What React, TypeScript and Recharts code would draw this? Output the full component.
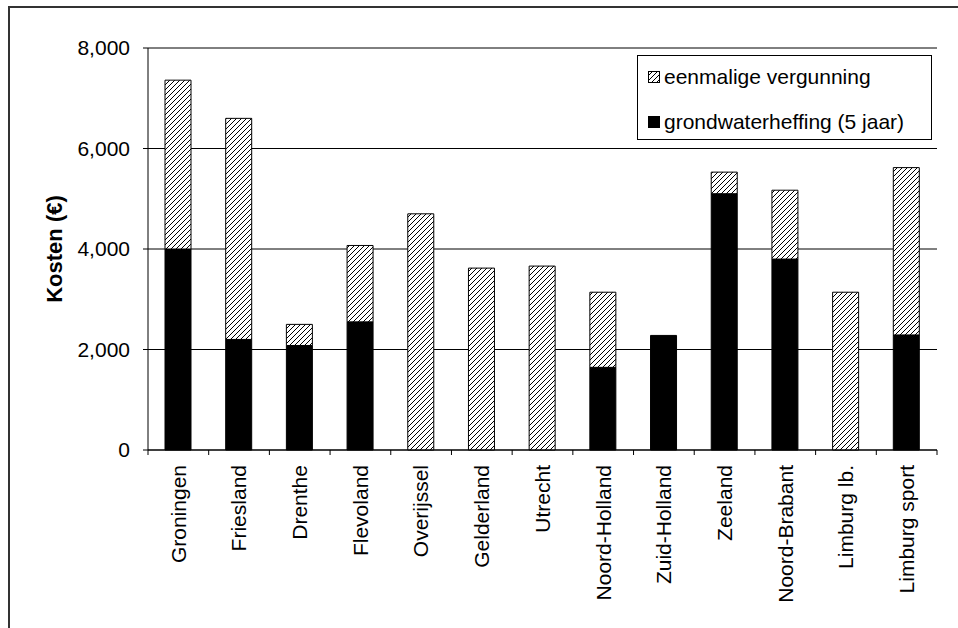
import React from "react";
import {
  BarChart,
  Bar,
  XAxis,
  YAxis,
  CartesianGrid,
} from "recharts";

// province / category order as on the x axis
const categories = [
  "Groningen",
  "Friesland",
  "Drenthe",
  "Flevoland",
  "Overijssel",
  "Gelderland",
  "Utrecht",
  "Noord-Holland",
  "Zuid-Holland",
  "Zeeland",
  "Noord-Brabant",
  "Limburg lb.",
  "Limburg sport",
];

// grondwaterheffing (5 jaar), the black lower part
const heffing = [4000, 2200, 2080, 2550, 0, 0, 0, 1645, 2280, 5100, 3800, 0, 2290];

// eenmalige vergunning, the hatched upper part
const vergunning = [3360, 4400, 420, 1520, 4700, 3620, 3660, 1495, 0, 430, 1370, 3140, 3330];

const yTicks = [0, 2000, 4000, 6000, 8000];

const W = 958;
const H = 628;
const margin = { top: 48, right: 21, bottom: 8, left: 68 };
const yAxisW = 80;
const xAxisH = 170;
const font = "Arial, 'Liberation Sans', sans-serif";

const data = categories.map((name, i) => ({
  name,
  heffing: heffing[i],
  vergunning: vergunning[i],
}));

const band = (W - margin.left - yAxisW - margin.right) / categories.length;

const fmt = (v: number) => v.toLocaleString("en-US");

function CategoryTick(props: any) {
  const { x, y, payload, index } = props;
  const left = x - band / 2;
  const last = index === categories.length - 1;
  return (
    <g>
      <line x1={left} y1={y} x2={left} y2={y + 5} stroke="#000" />
      {last && <line x1={x + band / 2} y1={y} x2={x + band / 2} y2={y + 5} stroke="#000" />}
      <text
        x={x}
        y={y + 15}
        transform={`rotate(-90 ${x} ${y + 15})`}
        textAnchor="end"
        dy="0.35em"
        fontSize={21}
        fontFamily={font}
        fill="#000"
      >
        {payload.value}
      </text>
    </g>
  );
}

function YLabel(props: any) {
  const { viewBox } = props;
  const cx = viewBox.x - 14;
  const cy = viewBox.y + viewBox.height / 2;
  return (
    <text
      x={cx}
      y={cy}
      transform={`rotate(-90 ${cx} ${cy})`}
      textAnchor="middle"
      dominantBaseline="central"
      fontSize={22}
      fontWeight="bold"
      fontFamily={font}
      fill="#000"
    >
      Kosten (€)
    </text>
  );
}

function Swatch({ hatched }: { hatched: boolean }) {
  return (
    <svg width={12} height={12} style={{ display: "block" }}>
      <rect
        x={0.5}
        y={0.5}
        width={11}
        height={11}
        fill={hatched ? "url(#hatch)" : "#000"}
        stroke="#000"
      />
    </svg>
  );
}

export default function App() {
  return (
    <div
      style={{
        position: "absolute",
        left: 0,
        top: 0,
        width: W,
        height: H,
        background: "#fff",
        overflow: "hidden",
      }}
    >
      <svg width={0} height={0} style={{ position: "absolute" }}>
        <defs>
          <pattern id="hatch" patternUnits="userSpaceOnUse" width={5} height={5}>
            <rect width={5} height={5} fill="#fff" />
            <path d="M0,5 L5,0 M-1,1 L1,-1 M4,6 L6,4" stroke="#000" strokeWidth={1} />
          </pattern>
        </defs>
      </svg>

      {/* outer frame, only left and top edges are in view */}
      <div
        style={{
          position: "absolute",
          left: 8,
          top: 6,
          width: W,
          height: H,
          borderLeft: "2px solid #333",
          borderTop: "2px solid #333",
        }}
      />

      <div style={{ position: "absolute", left: 0, top: 0 }}>
        <BarChart
          width={W}
          height={H}
          data={data}
          margin={margin}
          barSize={26}
        >
          <CartesianGrid vertical={false} stroke="#000" />
          <XAxis
            dataKey="name"
            height={xAxisH}
            interval={0}
            axisLine={{ stroke: "#000" }}
            tickLine={false}
            tickSize={0}
            tickMargin={0}
            tick={<CategoryTick />}
          />
          <XAxis
            xAxisId="top"
            dataKey="name"
            orientation="top"
            height={0}
            axisLine={{ stroke: "#999" }}
            tickLine={false}
            tick={false}
          />
          <YAxis
            domain={[0, 8000]}
            ticks={yTicks}
            width={yAxisW}
            tickFormatter={fmt}
            axisLine={{ stroke: "#000" }}
            tickLine={{ stroke: "#000" }}
            tickSize={5}
            tickMargin={13}
            tick={{ fill: "#000", fontSize: 21, fontFamily: font }}
            label={(p: any) => <YLabel {...p} />}
          />
          <YAxis
            yAxisId="right"
            orientation="right"
            domain={[0, 8000]}
            width={0}
            axisLine={{ stroke: "#999" }}
            tickLine={false}
            tick={false}
          />
          <Bar
            dataKey="heffing"
            stackId="a"
            fill="#000"
            stroke="#000"
            isAnimationActive={false}
          />
          <Bar
            dataKey="vergunning"
            stackId="a"
            fill="url(#hatch)"
            stroke="#000"
            isAnimationActive={false}
          />
        </BarChart>
      </div>

      <div
        style={{
          position: "absolute",
          left: 637,
          top: 55,
          width: 293,
          height: 83,
          border: "1px solid #000",
          background: "#fff",
          fontFamily: font,
          fontSize: 21,
          color: "#000",
        }}
      >
        <div style={{ position: "absolute", left: 10, top: 9, display: "flex", alignItems: "center", gap: 4 }}>
          <Swatch hatched />
          <span>eenmalige vergunning</span>
        </div>
        <div style={{ position: "absolute", left: 10, top: 54, display: "flex", alignItems: "center", gap: 4 }}>
          <Swatch hatched={false} />
          <span>grondwaterheffing (5 jaar)</span>
        </div>
      </div>
    </div>
  );
}
